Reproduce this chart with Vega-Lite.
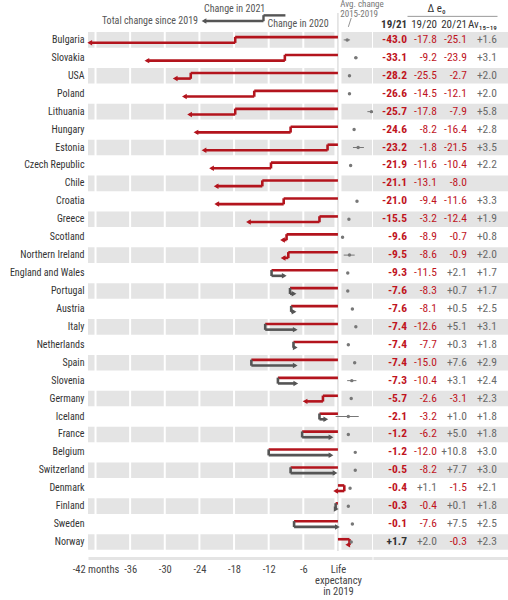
{
  "$schema": "https://vega.github.io/schema/vega-lite/v6.json",
  "padding": {"left": 0, "right": 0, "top": 0, "bottom": 0},
  "bounds": "flush",
  "spacing": 1,
  "config": {
    "view": {"stroke": null},
    "font": "Roboto Condensed, Liberation Sans Narrow, DejaVu Sans Condensed, Roboto, sans-serif",
    "locale": {"number": {"decimal": ".", "thousands": ",", "grouping": [3], "currency": ["$", ""], "minus": "-"}}
  },
  "datasets": {
    "countries": [
      {"country": "Bulgaria", "total": -43.0, "d20": -17.8, "d21": -25.1, "av": 1.6, "avLo": 1.0, "avHi": 2.1},
      {"country": "Slovakia", "total": -33.1, "d20": -9.2, "d21": -23.9, "av": 3.1, "avLo": 2.8, "avHi": 3.4},
      {"country": "USA", "total": -28.2, "d20": -25.5, "d21": -2.7, "av": 2.0},
      {"country": "Poland", "total": -26.6, "d20": -14.5, "d21": -12.1, "av": 2.0},
      {"country": "Lithuania", "total": -25.7, "d20": -17.8, "d21": -7.9, "av": 5.8, "avLo": 5.1, "avHi": 6.3},
      {"country": "Hungary", "total": -24.6, "d20": -8.2, "d21": -16.4, "av": 2.8},
      {"country": "Estonia", "total": -23.2, "d20": -1.8, "d21": -21.5, "av": 3.5, "avLo": 2.6, "avHi": 4.5},
      {"country": "Czech Republic", "total": -21.9, "d20": -11.6, "d21": -10.4, "av": 2.2},
      {"country": "Chile", "total": -21.1, "d20": -13.1, "d21": -8.0, "av": null},
      {"country": "Croatia", "total": -21.0, "d20": -9.4, "d21": -11.6, "av": 3.3},
      {"country": "Greece", "total": -15.5, "d20": -3.2, "d21": -12.4, "av": 1.9},
      {"country": "Scotland", "total": -9.6, "d20": -8.9, "d21": -0.7, "av": 0.8},
      {"country": "Northern Ireland", "total": -9.5, "d20": -8.6, "d21": -0.9, "av": 2.0, "avLo": 1.0, "avHi": 2.9},
      {"country": "England and Wales", "total": -9.3, "d20": -11.5, "d21": 2.1, "av": 1.7},
      {"country": "Portugal", "total": -7.6, "d20": -8.3, "d21": 0.7, "av": 1.7},
      {"country": "Austria", "total": -7.6, "d20": -8.1, "d21": 0.5, "av": 2.5},
      {"country": "Italy", "total": -7.4, "d20": -12.6, "d21": 5.1, "av": 3.1},
      {"country": "Netherlands", "total": -7.4, "d20": -7.7, "d21": 0.3, "av": 1.8},
      {"country": "Spain", "total": -7.4, "d20": -15.0, "d21": 7.6, "av": 2.9},
      {"country": "Slovenia", "total": -7.3, "d20": -10.4, "d21": 3.1, "av": 2.4, "avLo": 1.6, "avHi": 3.2},
      {"country": "Germany", "total": -5.7, "d20": -2.6, "d21": -3.1, "av": 2.3},
      {"country": "Iceland", "total": -2.1, "d20": -3.2, "d21": 1.0, "av": 1.8, "avLo": -0.4, "avHi": 3.6},
      {"country": "France", "total": -1.2, "d20": -6.2, "d21": 5.0, "av": 1.8},
      {"country": "Belgium", "total": -1.2, "d20": -12.0, "d21": 10.8, "av": 3.0},
      {"country": "Switzerland", "total": -0.5, "d20": -8.2, "d21": 7.7, "av": 3.0},
      {"country": "Denmark", "total": -0.4, "d20": 1.1, "d21": -1.5, "av": 2.1},
      {"country": "Finland", "total": -0.3, "d20": -0.4, "d21": 0.1, "av": 1.8},
      {"country": "Sweden", "total": -0.1, "d20": -7.6, "d21": 7.5, "av": 2.5},
      {"country": "Norway", "total": 1.7, "d20": 2.0, "d21": -0.3, "av": 2.3}
    ],
    "legend": [{"a": -9.1, "b": -12.9, "c": -23.2}],
    "grid": [{"m": -42}, {"m": -36}, {"m": -30}, {"m": -24}, {"m": -18}, {"m": -12}, {"m": -6}]
  },
  "hconcat": [
    {
      "width": 284,
      "height": 538,
      "layer": [
        {
          "data": {"name": "countries"},
          "transform": [
            {"window": [{"op": "row_number", "as": "rn"}]},
            {"filter": "datum.rn % 2 == 1"}
          ],
          "mark": {"type": "rect", "color": "#e4e4e4"},
          "encoding": {
            "x": {"datum": -43.3, "type": "quantitative"},
            "x2": {"datum": 5.9},
            "y": {
              "field": "country",
              "type": "nominal",
              "scale": {
                "type": "band",
                "domain": ["hdr", "Bulgaria", "Slovakia", "USA", "Poland", "Lithuania", "Hungary", "Estonia", "Czech Republic", "Chile", "Croatia", "Greece", "Scotland", "Northern Ireland", "England and Wales", "Portugal", "Austria", "Italy", "Netherlands", "Spain", "Slovenia", "Germany", "Iceland", "France", "Belgium", "Switzerland", "Denmark", "Finland", "Sweden", "Norway"],
                "paddingInner": 0.13,
                "paddingOuter": 0.065
              },
              "axis": {
                "title": null,
                "domain": false,
                "ticks": false,
                "labelPadding": 4,
                "labelFontSize": 10,
                "labelColor": "#333",
                "labelLimit": 100,
                "minExtent": 88,
                "maxExtent": 88,
                "labelExpr": "datum.value == 'hdr' ? '' : datum.label"
              }
            }
          }
        },
        {
          "data": {"name": "grid"},
          "mark": {"type": "rule", "color": "white", "strokeWidth": 2},
          "encoding": {
            "x": {
              "field": "m",
              "type": "quantitative",
              "scale": {"domain": [-43.3, 5.9], "nice": false, "zero": false},
              "axis": {
                "title": null,
                "values": [-42, -36, -30, -24, -18, -12, -6, 0, 6],
                "labelExpr": "datum.value == -42 ? '-42 months' : datum.value == 0 ? ['Life', 'expectancy', 'in 2019'] : datum.value == 6 ? '+6 months' : '-' + abs(datum.value)",
                "labelFlush": false,
                "labelOverlap": false,
                "labelBound": false,
                "ticks": false,
                "grid": false,
                "domainColor": "#e4e4e4",
                "domainWidth": 3,
                "offset": 7,
                "labelPadding": 6,
                "labelFontSize": 10.5,
                "labelLineHeight": 11,
                "labelColor": "#444"
              }
            }
          }
        },
        {
          "data": {"values": [{}]},
          "mark": {"type": "rule", "color": "white", "strokeWidth": 7},
          "encoding": {"x": {"datum": 0, "type": "quantitative"}}
        },
        {
          "data": {"values": [{}]},
          "mark": {"type": "rule", "color": "#cfcfcf", "strokeWidth": 1, "y2Offset": 13},
          "encoding": {"x": {"datum": 0, "type": "quantitative"}}
        },
        {
          "data": {"name": "countries"},
          "mark": {"type": "rule", "color": "#b3141d", "strokeWidth": 2.6, "yOffset": -2.8},
          "encoding": {
            "x": {"field": "d20", "type": "quantitative"},
            "x2": {"datum": 0},
            "y": {"field": "country", "type": "nominal"}
          }
        },
        {
          "data": {"name": "countries"},
          "mark": {"type": "tick", "orient": "vertical", "thickness": 2.6, "size": 6, "opacity": 1},
          "encoding": {
            "x": {"field": "d20", "type": "quantitative"},
            "y": {"field": "country", "type": "nominal"},
            "color": {"condition": {"test": "datum.d21 < 0", "value": "#b3141d"}, "value": "#555555"}
          }
        },
        {
          "data": {"name": "countries"},
          "mark": {"type": "rule", "strokeWidth": 2.6, "yOffset": 2.8},
          "encoding": {
            "x": {"field": "d20", "type": "quantitative"},
            "x2": {"field": "total"},
            "y": {"field": "country", "type": "nominal"},
            "color": {"condition": {"test": "datum.d21 < 0", "value": "#b3141d"}, "value": "#555555"}
          }
        },
        {
          "data": {"name": "countries"},
          "mark": {"type": "point", "filled": true, "size": 30, "opacity": 1, "yOffset": 2.8},
          "encoding": {
            "x": {"field": "total", "type": "quantitative"},
            "y": {"field": "country", "type": "nominal"},
            "shape": {"condition": {"test": "datum.d21 < 0", "value": "triangle-left"}, "value": "triangle-right"},
            "color": {"condition": {"test": "datum.d21 < 0", "value": "#b3141d"}, "value": "#555555"}
          }
        },
        {
          "data": {"name": "countries"},
          "transform": [{"filter": "isValid(datum.avLo)"}],
          "mark": {"type": "rule", "color": "#777", "strokeWidth": 1},
          "encoding": {
            "x": {"field": "avLo", "type": "quantitative"},
            "x2": {"field": "avHi"},
            "y": {"field": "country", "type": "nominal"}
          }
        },
        {
          "data": {"name": "countries"},
          "transform": [{"filter": "isValid(datum.av)"}],
          "mark": {"type": "point", "filled": true, "size": 12, "color": "#777", "opacity": 1},
          "encoding": {
            "x": {"field": "av", "type": "quantitative"},
            "y": {"field": "country", "type": "nominal"}
          }
        },
        {
          "data": {"name": "legend"},
          "mark": {"type": "rule", "color": "#555555", "strokeWidth": 2.4, "yOffset": -6.6},
          "encoding": {
            "x": {"field": "a", "type": "quantitative"},
            "x2": {"field": "b"},
            "y": {"datum": "hdr", "type": "nominal"}
          }
        },
        {
          "data": {"name": "legend"},
          "mark": {"type": "tick", "orient": "vertical", "color": "#555555", "thickness": 2.4, "size": 6, "opacity": 1, "yOffset": -3.8},
          "encoding": {
            "x": {"field": "b", "type": "quantitative"},
            "y": {"datum": "hdr", "type": "nominal"}
          }
        },
        {
          "data": {"name": "legend"},
          "mark": {"type": "rule", "color": "#555555", "strokeWidth": 2.4, "yOffset": -1},
          "encoding": {
            "x": {"field": "b", "type": "quantitative"},
            "x2": {"field": "c"},
            "y": {"datum": "hdr", "type": "nominal"}
          }
        },
        {
          "data": {"name": "legend"},
          "mark": {"type": "point", "shape": "triangle-left", "filled": true, "size": 30, "color": "#555555", "opacity": 1, "yOffset": -1},
          "encoding": {
            "x": {"field": "c", "type": "quantitative"},
            "y": {"datum": "hdr", "type": "nominal"}
          }
        },
        {
          "data": {"name": "legend"},
          "mark": {"type": "text", "align": "left", "dy": -13, "fontSize": 10, "color": "#555"},
          "encoding": {
            "x": {"field": "c", "type": "quantitative"},
            "y": {"datum": "hdr", "type": "nominal"},
            "text": {"value": "Change in 2021"}
          }
        },
        {
          "data": {"name": "legend"},
          "mark": {"type": "text", "align": "right", "dx": -6, "dy": -1, "fontSize": 10, "color": "#555"},
          "encoding": {
            "x": {"field": "c", "type": "quantitative"},
            "y": {"datum": "hdr", "type": "nominal"},
            "text": {"value": "Total change since 2019"}
          }
        },
        {
          "data": {"name": "legend"},
          "mark": {"type": "text", "align": "left", "dx": 4, "dy": 2, "fontSize": 10, "color": "#555"},
          "encoding": {
            "x": {"field": "b", "type": "quantitative"},
            "y": {"datum": "hdr", "type": "nominal"},
            "text": {"value": "Change in 2020"}
          }
        },
        {
          "data": {"values": [{}]},
          "mark": {"type": "text", "align": "left", "baseline": "alphabetic", "dy": -14.5, "lineHeight": 10, "fontSize": 9, "color": "#777"},
          "encoding": {
            "x": {"datum": 0.4, "type": "quantitative"},
            "y": {"datum": "hdr", "type": "nominal"},
            "text": {"value": ["Avg. change", "2015-2019"]}
          }
        },
        {
          "data": {"values": [{}]},
          "mark": {"type": "rule", "color": "#777", "strokeWidth": 0.8, "yOffset": -4, "y2Offset": -13},
          "encoding": {
            "x": {"datum": 2.3, "type": "quantitative"},
            "x2": {"datum": 1.8},
            "y": {"datum": "hdr", "type": "nominal"},
            "y2": {"datum": "Bulgaria"}
          }
        }
      ]
    },
    {
      "width": 135,
      "height": 538,
      "layer": [
        {
          "data": {"name": "countries"},
          "transform": [
            {"window": [{"op": "row_number", "as": "rn"}]},
            {"filter": "datum.rn % 2 == 1"}
          ],
          "mark": {"type": "rect", "color": "#e4e4e4"},
          "encoding": {
            "x": {"value": 0},
            "x2": {"value": "width"},
            "y": {
              "field": "country",
              "type": "nominal",
              "scale": {
                "type": "band",
                "domain": ["hdr", "Bulgaria", "Slovakia", "USA", "Poland", "Lithuania", "Hungary", "Estonia", "Czech Republic", "Chile", "Croatia", "Greece", "Scotland", "Northern Ireland", "England and Wales", "Portugal", "Austria", "Italy", "Netherlands", "Spain", "Slovenia", "Germany", "Iceland", "France", "Belgium", "Switzerland", "Denmark", "Finland", "Sweden", "Norway"],
                "paddingInner": 0.13,
                "paddingOuter": 0.065
              },
              "axis": null
            }
          }
        },
        {
          "data": {"name": "countries"},
          "transform": [
            {"fold": ["total", "d20", "d21", "av"], "as": ["col", "val"]},
            {"filter": "isValid(datum.val) && datum.col != 'total'"}
          ],
          "mark": {"type": "text", "align": "right", "dx": -3.5, "fontSize": 11.5},
          "encoding": {
            "x": {
              "field": "col",
              "type": "nominal",
              "bandPosition": 1,
              "scale": {"type": "band", "domain": ["total", "d20", "d21", "av"], "paddingInner": 0, "paddingOuter": 0.25},
              "axis": {"orient": "bottom", "title": null, "labels": false, "ticks": false, "domainColor": "#e4e4e4", "domainWidth": 3, "offset": 7}
            },
            "y": {"field": "country", "type": "nominal", "axis": null},
            "text": {"field": "val", "type": "quantitative", "format": "+.1f"},
            "color": {"condition": {"test": "datum.val < 0 && datum.col != 'av'", "value": "#c0141e"}, "value": "#6a6a6a"}
          }
        },
        {
          "data": {"name": "countries"},
          "mark": {"type": "text", "align": "right", "dx": -3.5, "fontSize": 11.5, "fontWeight": "bold"},
          "encoding": {
            "x": {"datum": "total", "type": "nominal", "bandPosition": 1},
            "y": {"field": "country", "type": "nominal", "axis": null},
            "text": {"field": "total", "type": "quantitative", "format": "+.1f"},
            "color": {"condition": {"test": "datum.total < 0", "value": "#c0141e"}, "value": "#333"}
          }
        },
        {
          "data": {"values": [{"col": "d20", "h": "19/20"}, {"col": "d21", "h": "20/21"}, {"col": "av", "h": "Av₁₅₋₁₉"}]},
          "mark": {"type": "text", "align": "right", "dx": -3.5, "dy": 3, "fontSize": 11, "color": "#333"},
          "encoding": {
            "x": {"field": "col", "type": "nominal", "bandPosition": 1},
            "y": {"datum": "hdr", "type": "nominal", "axis": null},
            "text": {"field": "h", "type": "nominal"}
          }
        },
        {
          "data": {"values": [{}]},
          "mark": {"type": "text", "align": "right", "dx": -3.5, "dy": 3, "fontSize": 11, "fontWeight": "bold", "color": "#333"},
          "encoding": {
            "x": {"datum": "total", "type": "nominal", "bandPosition": 1},
            "y": {"datum": "hdr", "type": "nominal", "axis": null},
            "text": {"value": "19/21"}
          }
        },
        {
          "data": {"values": [{}]},
          "mark": {"type": "text", "align": "center", "dx": -4, "dy": -12.6, "fontSize": 11, "color": "#333"},
          "encoding": {
            "x": {"datum": "d21", "type": "nominal", "bandPosition": 0},
            "y": {"datum": "hdr", "type": "nominal", "axis": null},
            "text": {"value": "Δ e₀"}
          }
        },
        {
          "data": {"values": [{}]},
          "mark": {"type": "rule", "color": "#999", "strokeWidth": 1, "yOffset": -5.6, "xOffset": -18, "x2Offset": 12},
          "encoding": {
            "x": {"datum": "d20", "type": "nominal"},
            "x2": {"datum": "av"},
            "y": {"datum": "hdr", "type": "nominal", "axis": null}
          }
        }
      ]
    }
  ]
}
